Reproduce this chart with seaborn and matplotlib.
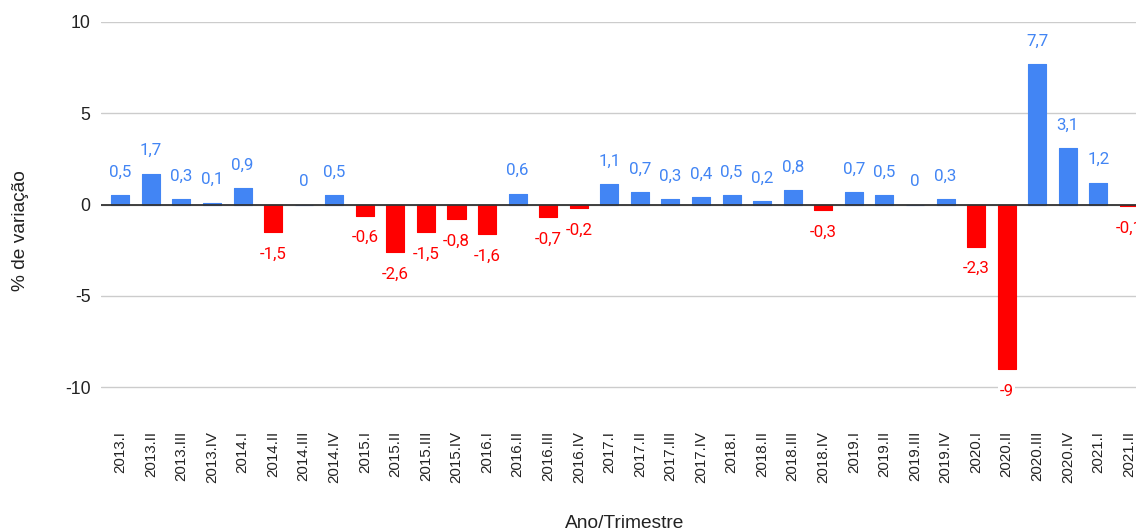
import matplotlib
matplotlib.use("Agg")
import matplotlib.pyplot as plt
import seaborn as sns
import pandas as pd

categories = ["2013.I", "2013.II", "2013.III", "2013.IV",
              "2014.I", "2014.II", "2014.III", "2014.IV",
              "2015.I", "2015.II", "2015.III", "2015.IV",
              "2016.I", "2016.II", "2016.III", "2016.IV",
              "2017.I", "2017.II", "2017.III", "2017.IV",
              "2018.I", "2018.II", "2018.III", "2018.IV",
              "2019.I", "2019.II", "2019.III", "2019.IV",
              "2020.I", "2020.II", "2020.III", "2020.IV",
              "2021.I", "2021.II"]
values = [0.5, 1.7, 0.3, 0.1,
          0.9, -1.5, 0.0, 0.5,
          -0.6, -2.6, -1.5, -0.8,
          -1.6, 0.6, -0.7, -0.2,
          1.1, 0.7, 0.3, 0.4,
          0.5, 0.2, 0.8, -0.3,
          0.7, 0.5, 0.0, 0.3,
          -2.3, -9.0, 7.7, 3.1,
          1.2, -0.1]
y_ticks = [-10, -5, 0, 5, 10]

BLUE = "#4285F4"
RED = "#FF0000"

df = pd.DataFrame({"trimestre": categories, "variacao": values})
df["sinal"] = ["neg" if v < 0 else "pos" for v in values]

sns.set_theme(style="white")
plt.rcParams["font.family"] = ["Liberation Sans", "DejaVu Sans"]

fig = plt.figure(figsize=(11.36, 5.31), dpi=100)
W, H = 1136, 531
ax = fig.add_axes([101 / W, (H - 420) / H, (1136 - 101) / W, (420 - 22) / H])

sns.barplot(data=df, x="trimestre", y="variacao", hue="sinal",
            palette={"pos": BLUE, "neg": RED}, dodge=False, legend=False,
            width=0.59, saturation=1, ax=ax, zorder=3)

for p in ax.patches:
    p.set_edgecolor(p.get_facecolor())
    p.set_linewidth(0.8)
    p.set_joinstyle("round")

ax.set_ylim(-11.8, 10.0)
ax.set_xlim(-0.63, 33.23)
ax.set_yticks(y_ticks)
ax.set_yticklabels([str(t) for t in y_ticks])
ax.yaxis.grid(True, color="#cccccc", linewidth=1)
ax.set_axisbelow(True)
ax.axhline(0, color="#333333", linewidth=1.3, zorder=4)
for s in ax.spines.values():
    s.set_visible(False)

ax.tick_params(axis="y", length=0, pad=7.5, labelsize=12.7, labelcolor="#222222")
ax.tick_params(axis="x", length=0, pad=8, labelsize=10.9, labelcolor="#222222",
               labelrotation=90)
ax.set_xlabel("")
ax.set_ylabel("")

for i, v in enumerate(values):
    txt = f"{v:g}".replace(".", ",")
    if txt == "-0":
        txt = "0"
    color = RED if v < 0 else BLUE
    off = -16 if v < 0 else 16.5
    ax.annotate(txt, xy=(i, v), xytext=(0, off), textcoords="offset points",
                ha="center", va="center", color=color, fontsize=12.2,
                family=["Roboto", "DejaVu Sans"], annotation_clip=False,
                bbox=dict(boxstyle="square,pad=0.1", fc="white", ec="none"),
                zorder=5)

fig.text(20.5 / W, 1 - 231 / H, "% de variação", rotation=90, ha="center",
         va="center", fontsize=13.8, color="#222222")
fig.text(625 / W, 1 - 523.5 / H, "Ano/Trimestre", ha="center", va="center",
         fontsize=13.8, color="#222222")

fig.savefig("out.png", dpi=100)
